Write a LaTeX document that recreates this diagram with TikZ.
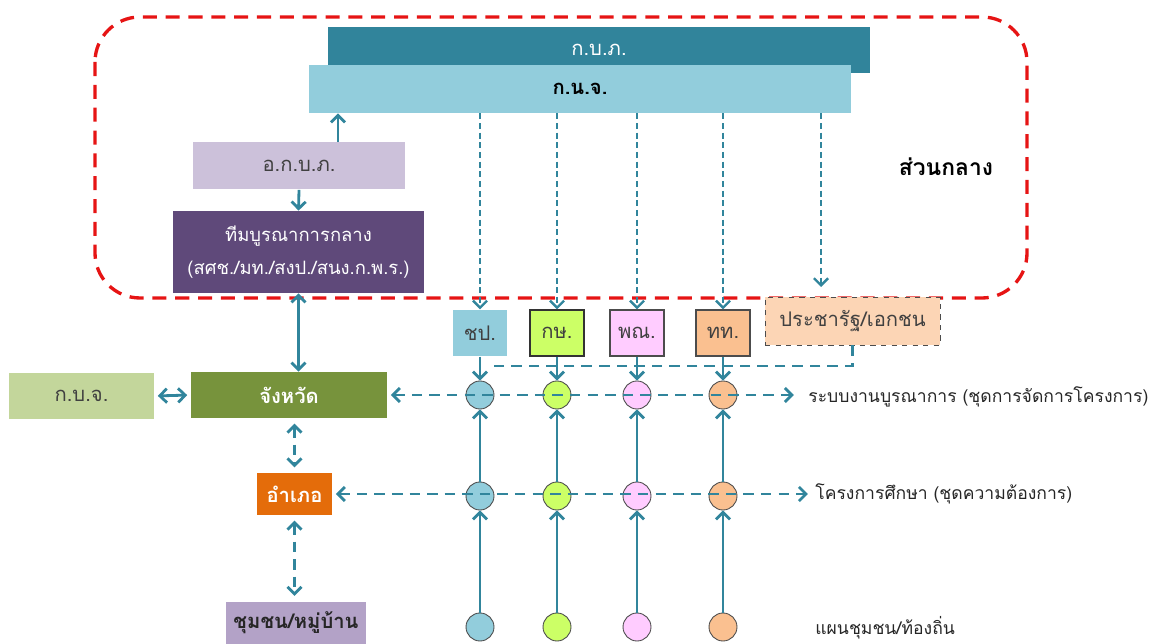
\documentclass[tikz,border=0pt]{standalone}
\usepackage{fontspec}
\setmainfont[Script=Thai]{Loma}
\usetikzlibrary{arrows.meta,calc}

\definecolor{flow}{RGB}{49,133,156}
\definecolor{regionred}{RGB}{230,20,20}
\definecolor{colKbp}{RGB}{49,132,155}
\definecolor{colKnj}{RGB}{146,205,220}
\definecolor{colOkbp}{RGB}{204,193,218}
\definecolor{colTeam}{RGB}{95,73,122}
\definecolor{colProv}{RGB}{119,147,60}
\definecolor{colKbj}{RGB}{195,214,155}
\definecolor{colAmp}{RGB}{228,108,10}
\definecolor{colComm}{RGB}{179,162,199}
\definecolor{colChp}{RGB}{146,205,220}
\definecolor{colKs}{RGB}{204,255,102}
\definecolor{colPn}{RGB}{255,204,255}
\definecolor{colTt}{RGB}{250,192,144}
\definecolor{colPracha}{RGB}{252,213,181}
\definecolor{inktext}{RGB}{64,64,64}

\begin{document}
\begin{tikzpicture}[x=0.02cm, y=-0.02cm,
    box/.style={rectangle, inner sep=0pt, font=\fontsize{11.5}{14}\selectfont},
    boldbox/.style={box, font=\fontsize{11.5}{14}\selectfont\bfseries},
    colbox/.style={box, minimum width=1.08cm, minimum height=0.92cm, text=inktext, line width=0.6pt},
    dot/.style={circle, draw=black!70, line width=0.5pt, minimum size=0.56cm, inner sep=0pt},
    solidflow/.style={draw=flow, line width=1.6pt, -{Straight Barb[length=4pt,width=8pt]}},
    dashflow/.style={draw=flow, line width=1.6pt, dash pattern=on 6pt off 4pt,
        {Straight Barb[length=4pt,width=8pt]}-{Straight Barb[length=4pt,width=8pt]}},
    downflow/.style={draw=flow, line width=1.4pt, dash pattern=on 3.5pt off 2pt,
        -{Straight Barb[length=4pt,width=8pt]}},
    region/.style={draw=regionred, line width=1.9pt, dash pattern=on 8pt off 5pt, rounded corners=0.9cm},
    sidelabel/.style={anchor=west, inner sep=0pt, text=black!85, font=\fontsize{10}{12}\selectfont}]

    \useasboundingbox (0,0) rectangle (1152,644);

    % --- central part ---
    \draw[region] (95,17) rectangle (1027,298);
    \node[box, fill=colKbp, text=white, minimum width=10.84cm, minimum height=0.92cm] (kbp) at (599,50) {ก.บ.ภ.};
    \node[boldbox, fill=colKnj, minimum width=10.84cm, minimum height=0.96cm] (knj) at (580,89) {ก.น.จ.};
    \node[box, fill=colOkbp, text=inktext, minimum width=4.24cm, minimum height=0.94cm] (okbp) at (299,166) {อ.ก.บ.ภ.};
    \node[box, fill=colTeam, text=white, minimum width=5.02cm, minimum height=1.64cm, align=center,
        font=\fontsize{10.5}{19}\selectfont] (team) at (298.5,252) {ทีมบูรณาการกลาง\\(สศช./มท./สงป./สนง.ก.พ.ร.)};
    \node[font=\fontsize{13}{15}\selectfont\bfseries] (central) at (946,167) {ส่วนกลาง};

    % --- provincial chain ---
    \node[boldbox, fill=colProv, text=white, minimum width=3.92cm, minimum height=0.92cm] (prov) at (289,395) {จังหวัด};
    \node[box, fill=colKbj, text=inktext, minimum width=2.9cm, minimum height=0.92cm] (kbj) at (81.5,396) {ก.บ.จ.};
    \node[boldbox, fill=colAmp, text=white, minimum width=1.5cm, minimum height=0.84cm] (amp) at (294.5,494) {อำเภอ};
    \node[boldbox, fill=colComm, text=black!85, minimum width=2.8cm, minimum height=0.86cm] (comm) at (296,623) {ชุมชน/หมู่บ้าน};

    \draw[solidflow] ([xshift=0.78cm]okbp.north) -- ([xshift=0.78cm]okbp.north |- knj.south);
    \draw[solidflow] (okbp.south) -- (team.north);
    \draw[solidflow, {Straight Barb[length=4pt,width=8pt]}-{Straight Barb[length=4pt,width=8pt]}] (team.south) -- (team.south |- prov.north);
    \draw[solidflow, {Straight Barb[length=4pt,width=8pt]}-{Straight Barb[length=4pt,width=8pt]}, shorten <=2pt, shorten >=2pt] (kbj.east) -- (prov.west);
    \draw[dashflow, shorten <=3pt, shorten >=3pt] (amp.north |- prov.south) -- (amp.north);
    \draw[dashflow, shorten <=3pt, shorten >=3pt] (amp.south) -- (amp.south |- comm.north);

    % --- agencies ---
    \node[box, fill=colPracha, draw=black!70, dashed, line width=0.5pt, text=inktext, minimum width=3.5cm, minimum height=0.96cm] (pracha) at (852.5,321) {ประชารัฐ/เอกชน};
    \coordinate (prachaEnd) at (821,287);
    \coordinate (joinL) at (490,366);
    \draw[downflow] (knj.south -| prachaEnd) -- (prachaEnd);
    \draw[draw=flow, line width=1.6pt, dash pattern=on 6pt off 4pt] (pracha.south) |- (joinL);

    \foreach \cx/\nm/\lab/\fc/\dc in {480/chp/ชป./colChp/none, 557/ks/กษ./colKs/black!80,
                                      637/pn/พณ./colPn/black!70, 723/tt/ทท./colTt/black!70}
    {
        \node[colbox, fill=\fc, draw=\dc] (\nm) at (\cx,333) {\lab};
        \node[dot, fill=\fc] (\nm1) at (\cx,395) {};
        \node[dot, fill=\fc] (\nm2) at (\cx,496) {};
        \node[dot, fill=\fc] (\nm3) at (\cx,627) {};
        \draw[downflow] (knj.south -| \nm.north) -- (\nm.north);
        \draw[solidflow] (\nm.south) -- (\nm1.north);
        \draw[solidflow] (\nm2.north) -- (\nm1.south);
        \draw[solidflow] (\nm3.north) -- (\nm2.south);
    }

    % --- outputs ---
    \node[sidelabel] (lblA) at (808,397) {ระบบงานบูรณาการ (ชุดการจัดการโครงการ)};
    \node[sidelabel] (lblB) at (815,494) {โครงการศึกษา (ชุดความต้องการ)};
    \node[sidelabel] (lblC) at (815,628) {แผนชุมชน/ท้องถิ่น};

    \draw[dashflow, shorten <=2pt, shorten >=8pt] (prov.east) -- (prov.east -| lblA.west);
    \draw[dashflow, shorten <=2pt, shorten >=4pt] (amp.east) -- (amp.east -| lblB.west);

\end{tikzpicture}
\end{document}
